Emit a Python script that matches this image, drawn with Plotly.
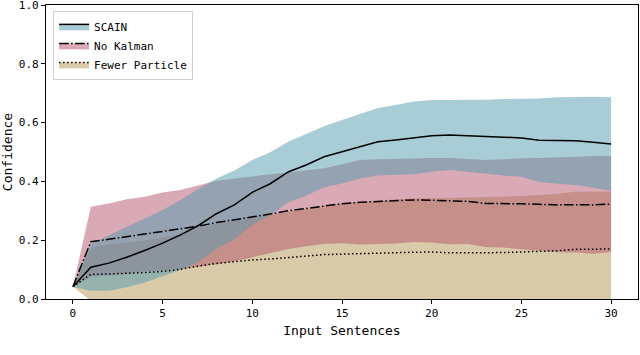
import plotly.graph_objects as go

sentences = list(range(31))

scain_mean = [0.042, 0.108, 0.122, 0.142, 0.165, 0.190, 0.218, 0.250, 0.290, 0.320, 0.363,
              0.392, 0.432, 0.456, 0.484, 0.501, 0.520, 0.535, 0.541, 0.548, 0.555,
              0.558, 0.555, 0.552, 0.550, 0.548, 0.540, 0.539, 0.538, 0.533, 0.527]
scain_std = [0.0, 0.080, 0.094, 0.102, 0.109, 0.113, 0.119, 0.124, 0.120, 0.117, 0.110,
             0.107, 0.103, 0.105, 0.104, 0.108, 0.110, 0.115, 0.119, 0.124, 0.122,
             0.119, 0.122, 0.126, 0.130, 0.132, 0.142, 0.147, 0.150, 0.155, 0.159]

kalman_mean = [0.042, 0.195, 0.203, 0.212, 0.221, 0.229, 0.237, 0.248, 0.260, 0.269, 0.280,
               0.289, 0.300, 0.308, 0.316, 0.324, 0.329, 0.331, 0.333, 0.337, 0.336,
               0.333, 0.332, 0.325, 0.325, 0.324, 0.322, 0.320, 0.321, 0.320, 0.323]
kalman_std = [0.0, 0.119, 0.122, 0.127, 0.127, 0.133, 0.134, 0.138, 0.142, 0.141, 0.138,
              0.135, 0.130, 0.129, 0.129, 0.134, 0.144, 0.144, 0.144, 0.143, 0.144,
              0.147, 0.145, 0.148, 0.150, 0.155, 0.158, 0.161, 0.163, 0.166, 0.163]

fewer_mean = [0.042, 0.084, 0.085, 0.087, 0.090, 0.094, 0.101, 0.112, 0.121, 0.127, 0.133,
              0.136, 0.142, 0.146, 0.151, 0.153, 0.154, 0.155, 0.157, 0.159, 0.160,
              0.157, 0.157, 0.157, 0.158, 0.160, 0.162, 0.164, 0.169, 0.170, 0.170]
fewer_std = [0.0, 0.090, 0.100, 0.105, 0.110, 0.115, 0.120, 0.130, 0.135, 0.140, 0.145,
             0.150, 0.155, 0.160, 0.163, 0.172, 0.176, 0.180, 0.182, 0.183, 0.183,
             0.185, 0.188, 0.190, 0.190, 0.190, 0.192, 0.194, 0.196, 0.196, 0.196]

# drawn bottom to top: tan, pink, blue (as in the original)
series = [
    ("Fewer Particle", fewer_mean, fewer_std, "rgba(179,149,83,0.5)", "1.5px,2.5px"),
    ("No Kalman", kalman_mean, kalman_std, "rgba(179,83,107,0.5)", "9.6px,2.4px,1.5px,2.4px"),
    ("SCAIN", scain_mean, scain_std, "rgba(81,155,175,0.5)", "solid"),
]

fig = go.Figure()

for name, mean, std, col, dash in series:
    lo = [m - s for m, s in zip(mean, std)]
    hi = [m + s for m, s in zip(mean, std)]
    fig.add_trace(go.Scatter(x=sentences, y=lo, mode="lines", line=dict(width=0),
                             showlegend=False, hoverinfo="skip"))
    fig.add_trace(go.Scatter(x=sentences, y=hi, mode="lines", line=dict(width=0),
                             fill="tonexty", fillcolor=col, showlegend=False, hoverinfo="skip"))

for name, mean, std, col, dash in series:
    fig.add_trace(go.Scatter(x=sentences, y=mean, mode="lines", showlegend=False,
                             line=dict(color="black", width=1.5, dash=dash)))

# legend entries (SCAIN first)
for name, mean, std, col, dash in series[::-1]:
    fig.add_trace(go.Scatter(x=[None], y=[None], mode="lines", name=name,
                             fill="toself", fillcolor=col,
                             line=dict(color="black", width=1.5, dash=dash)))

font = "DejaVu Sans Mono, monospace"
fig.update_layout(
    width=640, height=355,
    margin=dict(l=46, r=2, t=5, b=56),
    paper_bgcolor="white", plot_bgcolor="white",
    font=dict(family=font, size=11, color="black"),
    legend=dict(x=0.012, y=0.98, xanchor="left", yanchor="top", traceorder="normal",
                bgcolor="rgba(255,255,255,0.8)", bordercolor="#d0d0d0", borderwidth=1,
                font=dict(size=11), tracegroupgap=0),
    xaxis=dict(range=[-1.5, 31.5], tickvals=[0, 5, 10, 15, 20, 25, 30],
               ticks="outside", ticklen=4, tickcolor="black",
               showline=True, linecolor="black", linewidth=1.2, mirror=True,
               showgrid=False, zeroline=False,
               title=dict(text="Input Sentences", standoff=6)),
    yaxis=dict(range=[0, 1.0], tickvals=[0, 0.2, 0.4, 0.6, 0.8, 1.0],
               tickformat=".1f", ticks="outside", ticklen=4, tickcolor="black",
               ticklabeloverflow="allow",
               showline=True, linecolor="black", linewidth=1.2, mirror=True,
               showgrid=False, zeroline=False, automargin=False,
               title=dict(text="Confidence", standoff=6)),
)

fig.write_html("out.html", config={"displayModeBar": False},
               post_script="document.body.style.margin='0';")
